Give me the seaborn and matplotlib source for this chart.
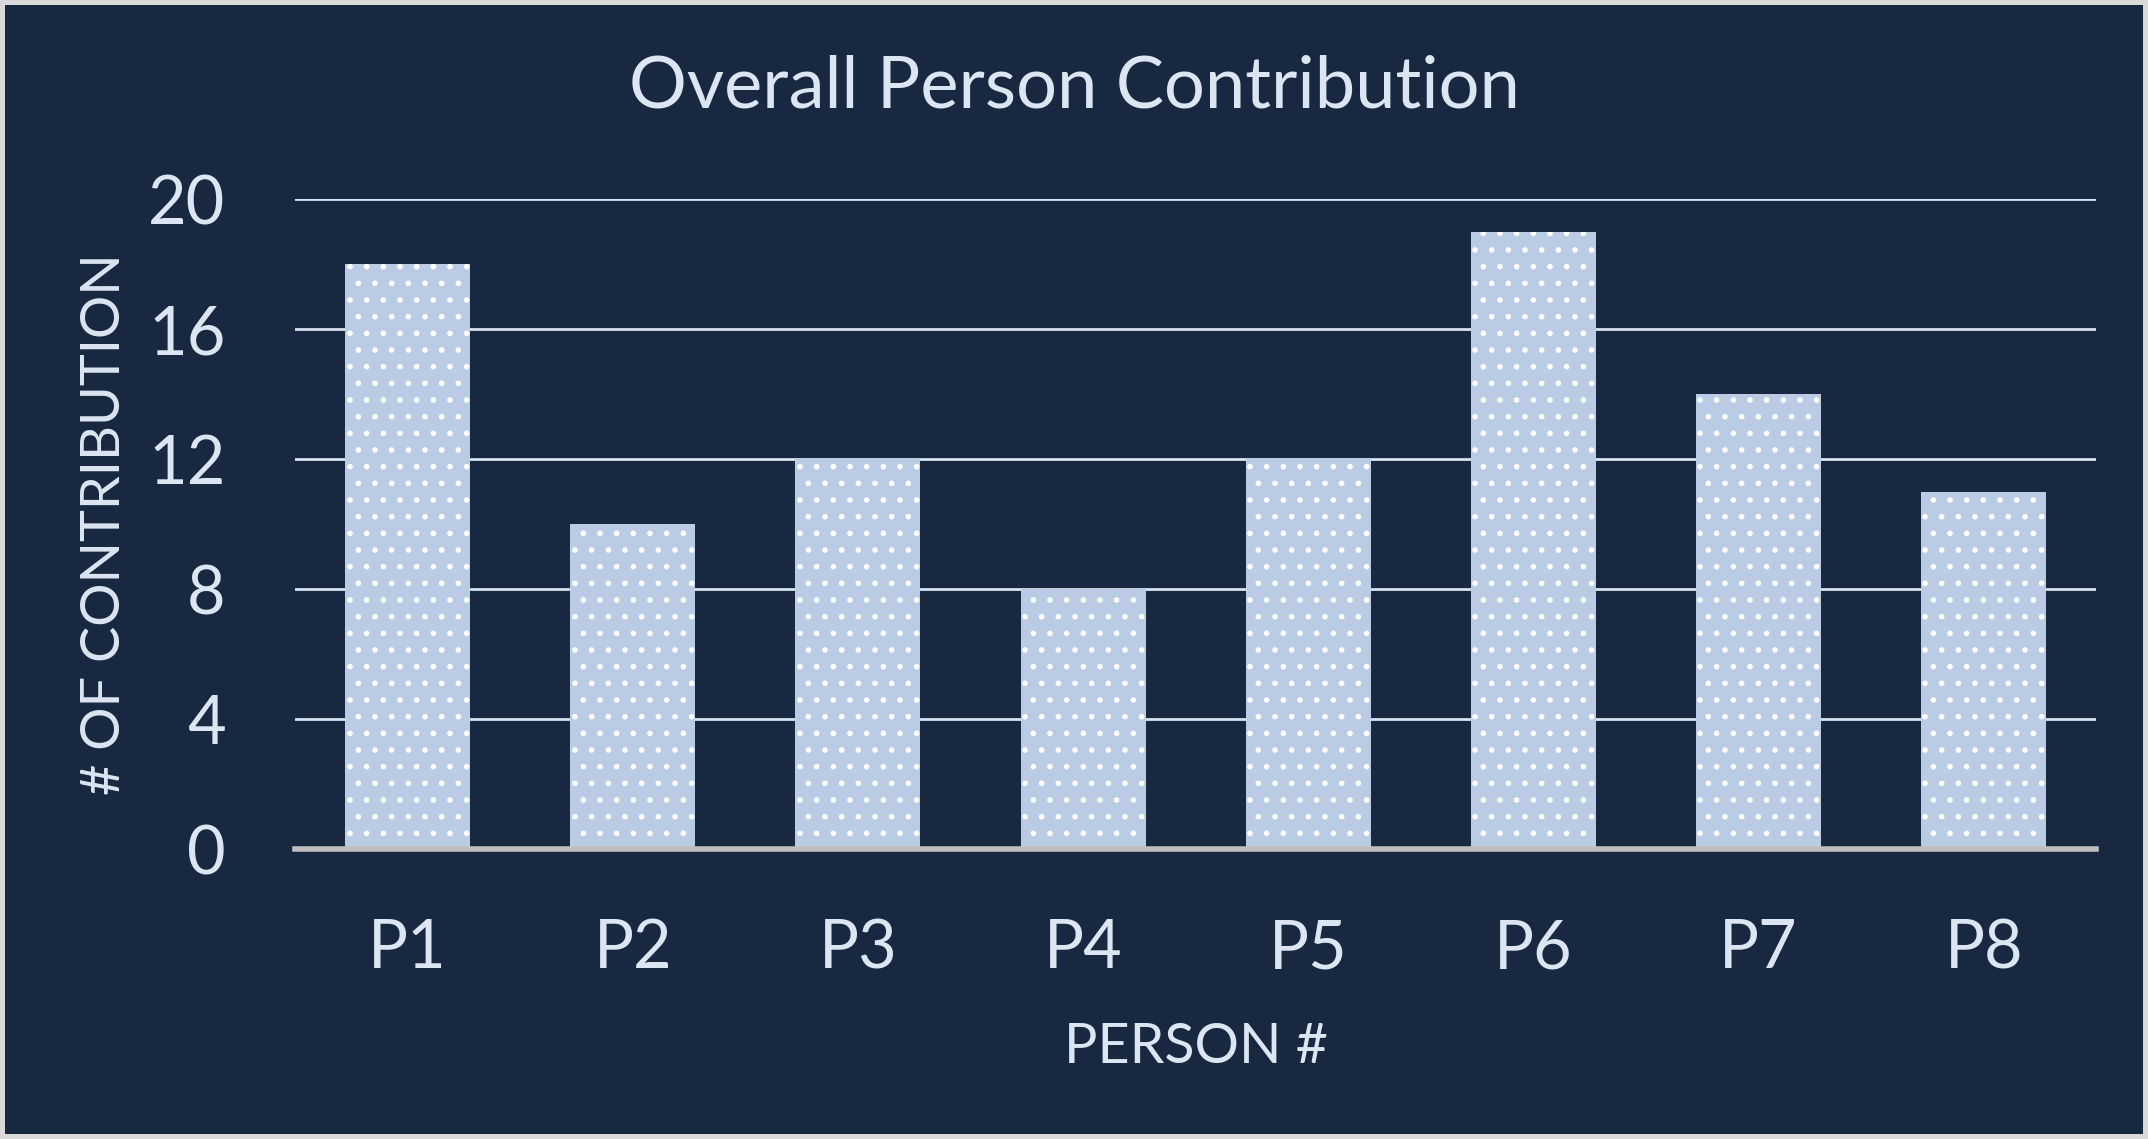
#importar bibliotecas
import matplotlib
matplotlib.use('Agg')
import matplotlib.pyplot as plt
import seaborn as sns

# dados
persons = ['P1', 'P2', 'P3', 'P4', 'P5', 'P6', 'P7', 'P8']
contributions = [18, 10, 12, 8, 12, 19, 14, 11]
y_ticks = [0, 4, 8, 12, 16, 20]

# cores
bg_color = '#182840'
bar_color = '#b9cce4'
text_color = '#dce6f2'
grid_color = '#d9e3f0'

sns.set_style('dark')
plt.rcParams['font.family'] = ['Lato', 'DejaVu Sans']
plt.rcParams['hatch.linewidth'] = 1.6

fig = plt.figure(figsize=(21.48, 11.39), dpi=100)
fig.patch.set_facecolor(bg_color)
fig.patch.set_edgecolor('#d9d9d9')
fig.patch.set_linewidth(6)
ax = fig.add_axes([0.1373, 0.2546, 0.8387, 0.5704])
ax.set_facecolor(bg_color)

sns.barplot(x=persons, y=contributions, color=bar_color, saturation=1,
            width=0.555, ax=ax)

# padrao pontilhado nas barras
for p in ax.patches:
    p.set_hatch('.')
    p.set_edgecolor('white')
    p.set_linewidth(0)

ax.set_xlim(-0.5, 7.5)
ax.set_ylim(0, 20)
ax.set_yticks(y_ticks)
ax.yaxis.grid(True, color=grid_color, linewidth=2)
ax.xaxis.grid(False)
ax.set_axisbelow(True)

for s in ['top', 'left', 'right']:
    ax.spines[s].set_visible(False)
ax.spines['bottom'].set_color('#bfbfbf')
ax.spines['bottom'].set_linewidth(4)

ax.tick_params(axis='both', length=0, labelsize=48, labelcolor=text_color)
ax.tick_params(axis='y', pad=50)
ax.tick_params(axis='x', pad=50)

ax.set_xlabel('PERSON #', fontsize=40, color=text_color, labelpad=30)
ax.set_ylabel('# OF CONTRIBUTION', fontsize=39, color=text_color, labelpad=14)

fig.suptitle('Overall Person Contribution', fontsize=52, color=text_color,
             x=0.5, y=0.924, va='center')

fig.savefig('out.png', dpi=100, facecolor=fig.get_facecolor(),
            edgecolor=fig.get_edgecolor())
